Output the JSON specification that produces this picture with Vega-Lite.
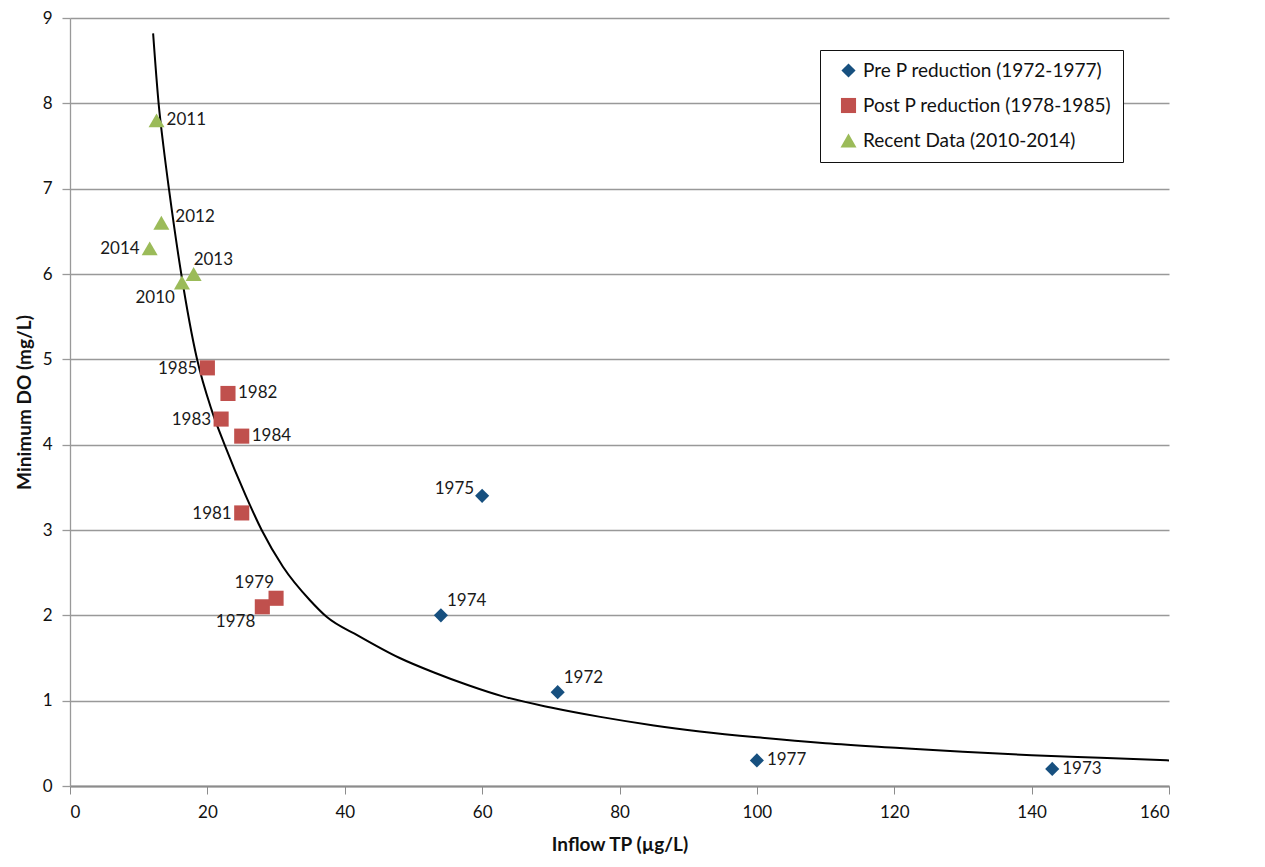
{
  "$schema": "https://vega.github.io/schema/vega-lite/v6.json",
  "autosize": "none",
  "width": 1099,
  "height": 768,
  "padding": {"left": 70, "top": 18, "right": 96, "bottom": 81},
  "background": "white",
  "config": {
    "font": "Lato",
    "view": {"stroke": null},
    "axis": {"labelFont": "Lato", "titleFont": "Lato", "labelColor": "#111", "titleColor": "#111", "labelFontSize": 17, "titleFontSize": 19, "titleFontWeight": "bold"}
  },
  "datasets": {
    "pts": [
      {"year": "1972", "tp": 71, "do": 1.1, "group": "Pre P reduction (1972-1977)"},
      {"year": "1973", "tp": 143, "do": 0.2, "group": "Pre P reduction (1972-1977)"},
      {"year": "1974", "tp": 54, "do": 2.0, "group": "Pre P reduction (1972-1977)"},
      {"year": "1975", "tp": 60, "do": 3.4, "group": "Pre P reduction (1972-1977)"},
      {"year": "1977", "tp": 100, "do": 0.3, "group": "Pre P reduction (1972-1977)"},
      {"year": "1978", "tp": 28, "do": 2.1, "group": "Post P reduction (1978-1985)"},
      {"year": "1979", "tp": 30, "do": 2.2, "group": "Post P reduction (1978-1985)"},
      {"year": "1981", "tp": 25, "do": 3.2, "group": "Post P reduction (1978-1985)"},
      {"year": "1982", "tp": 23, "do": 4.6, "group": "Post P reduction (1978-1985)"},
      {"year": "1983", "tp": 22, "do": 4.3, "group": "Post P reduction (1978-1985)"},
      {"year": "1984", "tp": 25, "do": 4.1, "group": "Post P reduction (1978-1985)"},
      {"year": "1985", "tp": 20, "do": 4.9, "group": "Post P reduction (1978-1985)"},
      {"year": "2010", "tp": 16.3, "do": 5.9, "group": "Recent Data (2010-2014)"},
      {"year": "2011", "tp": 12.6, "do": 7.8, "group": "Recent Data (2010-2014)"},
      {"year": "2012", "tp": 13.3, "do": 6.6, "group": "Recent Data (2010-2014)"},
      {"year": "2013", "tp": 18, "do": 6.0, "group": "Recent Data (2010-2014)"},
      {"year": "2014", "tp": 11.6, "do": 6.3, "group": "Recent Data (2010-2014)"}
    ],
    "curve": [
      {"tp": 12.1, "do": 8.82},
      {"tp": 12.9, "do": 8.0},
      {"tp": 13.6, "do": 7.5},
      {"tp": 14.4, "do": 7.0},
      {"tp": 16.2, "do": 6.0},
      {"tp": 18.5, "do": 5.0},
      {"tp": 20.6, "do": 4.41},
      {"tp": 22.5, "do": 4.0},
      {"tp": 25.6, "do": 3.4},
      {"tp": 27.9, "do": 3.0},
      {"tp": 31.0, "do": 2.57},
      {"tp": 34.9, "do": 2.18},
      {"tp": 37.4, "do": 1.98},
      {"tp": 42, "do": 1.76},
      {"tp": 48, "do": 1.5},
      {"tp": 53, "do": 1.33},
      {"tp": 58, "do": 1.18},
      {"tp": 63, "do": 1.05},
      {"tp": 70, "do": 0.92},
      {"tp": 77.2, "do": 0.81},
      {"tp": 85, "do": 0.71},
      {"tp": 91.7, "do": 0.64},
      {"tp": 100, "do": 0.57},
      {"tp": 110, "do": 0.5},
      {"tp": 120.8, "do": 0.445},
      {"tp": 130, "do": 0.4},
      {"tp": 140, "do": 0.36},
      {"tp": 150, "do": 0.33},
      {"tp": 160, "do": 0.3}
    ]
  },
  "encoding": {
    "x": {"field": "tp", "type": "quantitative", "title": "Inflow TP (µg/L)",
      "scale": {"domain": [0, 160], "nice": false},
      "axis": {"values": [0, 20, 40, 60, 80, 100, 120, 140, 160], "grid": false, "domainColor": "#8c8c8c", "domainWidth": 2, "tickColor": "#8c8c8c", "tickSize": 8, "tickWidth": 1, "labelPadding": 10, "titlePadding": 15}},
    "y": {"field": "do", "type": "quantitative", "title": "Minimum DO (mg/L)",
      "scale": {"domain": [0, 9], "nice": false},
      "axis": {"values": [0, 1, 2, 3, 4, 5, 6, 7, 8, 9], "grid": true, "gridColor": "#999999", "gridWidth": 1.3, "domainColor": "#999999", "domainWidth": 1.3, "tickColor": "#999999", "tickSize": 8, "tickWidth": 1.3, "labelPadding": 10, "titlePadding": 8}}
  },
  "layer": [
    {
      "data": {"name": "curve"},
      "mark": {"type": "line", "color": "#000000", "strokeWidth": 2, "interpolate": "monotone"},
      "encoding": {"order": {"field": "tp", "type": "quantitative"}}
    },
    {
      "data": {"name": "pts"},
      "mark": {"type": "point", "filled": true, "opacity": 1},
      "encoding": {
        "color": {"field": "group", "type": "nominal",
          "scale": {"domain": ["Pre P reduction (1972-1977)", "Post P reduction (1978-1985)", "Recent Data (2010-2014)"], "range": ["#17507f", "#c0504d", "#9bbb59"]},
          "legend": {"title": null, "orient": "none", "legendX": 750, "legendY": 32, "strokeColor": "#111", "fillColor": "white", "padding": 11, "symbolOffset": 8, "labelFontSize": 19, "labelFont": "Lato", "labelColor": "#111", "symbolSize": 170, "symbolStrokeWidth": 0, "rowPadding": 15, "labelOffset": 5, "labelLimit": 400}},
        "shape": {"field": "group", "type": "nominal",
          "scale": {"domain": ["Pre P reduction (1972-1977)", "Post P reduction (1978-1985)", "Recent Data (2010-2014)"], "range": ["diamond", "square", "triangle-up"]}},
        "size": {"field": "group", "type": "ordinal", "legend": null,
          "scale": {"domain": ["Pre P reduction (1972-1977)", "Post P reduction (1978-1985)", "Recent Data (2010-2014)"], "range": [200, 256, 256]}}
      }
    },
    {
      "data": {"name": "pts"},
      "transform": [{"filter": {"field": "year", "oneOf": ["2011", "1982", "1984", "1977", "1973"]}}],
      "mark": {"type": "text", "align": "left", "baseline": "middle", "dx": 10, "dy": 0, "fontSize": 17, "color": "#1a1a1a"},
      "encoding": {"text": {"field": "year"}}
    },
    {
      "data": {"name": "pts"},
      "transform": [{"filter": {"field": "year", "oneOf": ["2014", "1985", "1983", "1981"]}}],
      "mark": {"type": "text", "align": "right", "baseline": "middle", "dx": -10, "dy": 1, "fontSize": 17, "color": "#1a1a1a"},
      "encoding": {"text": {"field": "year"}}
    },
    {
      "data": {"name": "pts"},
      "transform": [{"filter": {"field": "year", "oneOf": ["1974", "1972"]}}],
      "mark": {"type": "text", "align": "left", "baseline": "middle", "dx": 6, "dy": -14, "fontSize": 17, "color": "#1a1a1a"},
      "encoding": {"text": {"field": "year"}}
    },
    {
      "data": {"name": "pts"},
      "transform": [{"filter": {"field": "year", "equal": "2012"}}],
      "mark": {"type": "text", "align": "left", "baseline": "middle", "dx": 14, "dy": -6, "fontSize": 17, "color": "#1a1a1a"},
      "encoding": {"text": {"field": "year"}}
    },
    {
      "data": {"name": "pts"},
      "transform": [{"filter": {"field": "year", "equal": "2013"}}],
      "mark": {"type": "text", "align": "left", "baseline": "middle", "dx": 0, "dy": -14, "fontSize": 17, "color": "#1a1a1a"},
      "encoding": {"text": {"field": "year"}}
    },
    {
      "data": {"name": "pts"},
      "transform": [{"filter": {"field": "year", "oneOf": ["2010", "1978"]}}],
      "mark": {"type": "text", "align": "right", "baseline": "middle", "dx": -7, "dy": 15, "fontSize": 17, "color": "#1a1a1a"},
      "encoding": {"text": {"field": "year"}}
    },
    {
      "data": {"name": "pts"},
      "transform": [{"filter": {"field": "year", "equal": "1979"}}],
      "mark": {"type": "text", "align": "right", "baseline": "middle", "dx": -2, "dy": -15, "fontSize": 17, "color": "#1a1a1a"},
      "encoding": {"text": {"field": "year"}}
    },
    {
      "data": {"name": "pts"},
      "transform": [{"filter": {"field": "year", "equal": "1975"}}],
      "mark": {"type": "text", "align": "right", "baseline": "middle", "dx": -8, "dy": -7, "fontSize": 17, "color": "#1a1a1a"},
      "encoding": {"text": {"field": "year"}}
    }
  ]
}
